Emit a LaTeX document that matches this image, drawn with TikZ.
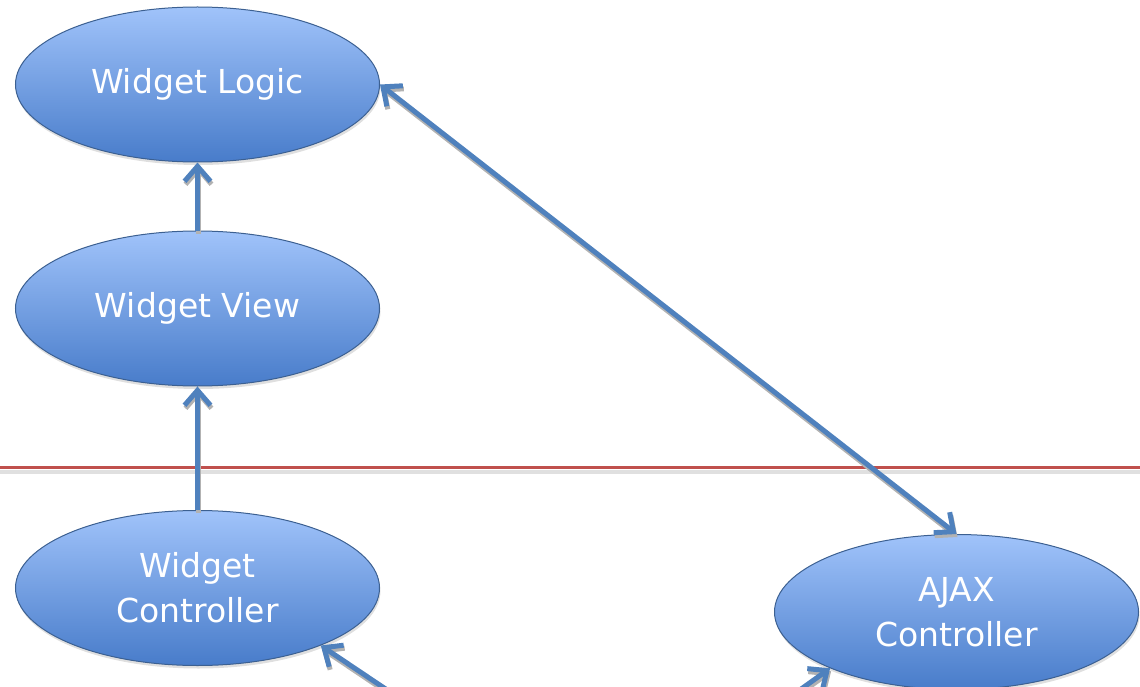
\documentclass[tikz,border=0pt]{standalone}
\usepackage{fontspec}
\setmainfont{DejaVu Sans}
\usetikzlibrary{shapes.geometric,arrows.meta,shadows}
\definecolor{ellTop}{RGB}{160,195,250}
\definecolor{ellBot}{RGB}{72,124,202}
\definecolor{ellLine}{RGB}{60,96,145}
\definecolor{arrBlue}{RGB}{79,129,189}
\definecolor{redLine}{RGB}{192,80,77}
\tikzset{
  ovalbox/.style={ellipse, draw=ellLine, line width=1pt,
    top color=ellTop, bottom color=ellBot,
    minimum width=364pt, minimum height=155pt, inner sep=0pt,
    text=white, font=\fontsize{33}{45}\selectfont, align=center,
    drop shadow={shadow xshift=1pt, shadow yshift=-3pt, opacity=0.25}},
  flow/.style={draw=arrBlue, line width=5pt,
    -{Straight Barb[length=15pt,width=26pt]},
    preaction={draw=black!30, line width=5pt, transform canvas={shift={(1pt,-3pt)}}}},
  flowboth/.style={flow, {Straight Barb[length=15pt,width=26pt]}-{Straight Barb[length=15pt,width=26pt]}},
  sepline/.style={draw=redLine, line width=3pt}
}
\begin{document}
\begin{tikzpicture}[x=1pt,y=-1pt]
\useasboundingbox (0,0) rectangle (1140,687);
\clip (0,0) rectangle (1140,687);
\fill[black!12] (0,470) rectangle (1140,474);
\coordinate (sepL) at (0,467);
\coordinate (sepR) at (1140,467);
\draw[sepline] (sepL) -- (sepR);
\node[ovalbox] (logic) at (197.5,84.5) {Widget Logic};
\node[ovalbox] (view) at (197.5,308.5) {Widget View};
\node[ovalbox] (wctrl) at (197.5,588) {Widget\\Controller};
\node[ovalbox] (ajax) at (956.5,612) {AJAX\\Controller};
\coordinate (inL) at (405,702);
\coordinate (inR) at (790,697);
\draw[flow] (view.north) -- (logic.south);
\draw[flow] (wctrl.north) -- (view.south);
\draw[flowboth] (logic.east) -- (ajax.north);
\draw[flow] (inL) -- (wctrl.-25);
\draw[flow] (inR) -- (ajax.-156);
\end{tikzpicture}
\end{document}
